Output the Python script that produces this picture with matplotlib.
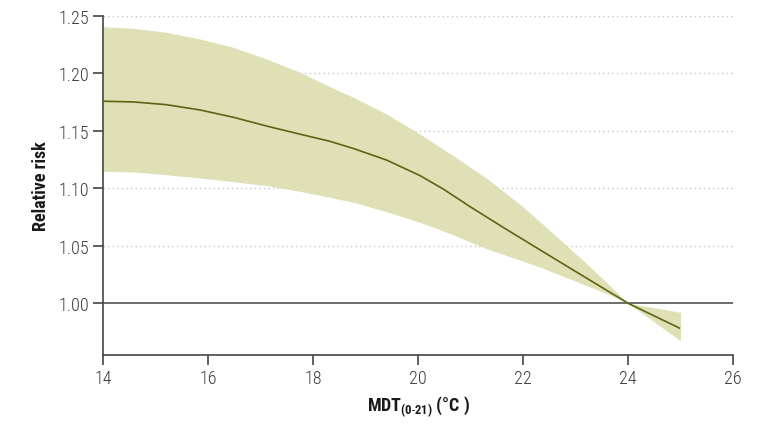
import matplotlib
matplotlib.use("Agg")
import matplotlib.pyplot as plt
from matplotlib import font_manager as fm

# Data
x_center = [14.0, 14.58, 15.21, 15.85, 16.48, 17.12, 17.75, 18.32, 18.77, 19.40,
            20.04, 20.48, 20.99, 21.62, 22.32, 23.15, 24.0, 24.98]
y_center = [1.1756, 1.175, 1.1726, 1.168, 1.1617, 1.154, 1.147, 1.1408, 1.1345, 1.1245,
            1.1109, 1.0993, 1.0840, 1.0660, 1.0465, 1.0235, 1.000, 0.9784]

x_band = [14.0, 14.58, 15.21, 15.85, 16.48, 17.12, 17.75, 18.32, 18.77, 19.40,
          20.04, 20.67, 21.30, 21.94, 22.32, 23.15, 23.59, 24.0, 25.0]
y_upper = [1.2404, 1.239, 1.2355, 1.2297, 1.2225, 1.2123, 1.2008, 1.1883, 1.179, 1.1645,
           1.147, 1.1283, 1.1089, 1.086, 1.071, 1.037, 1.0182, 1.000, 0.9921]
y_lower = [1.1147, 1.1141, 1.1117, 1.1089, 1.1057, 1.1022, 1.0973, 1.0921, 1.0877, 1.0796,
           1.0703, 1.0595, 1.0475, 1.0375, 1.0315, 1.0165, 1.0085, 1.000, 0.9674]

xticks = [14, 16, 18, 20, 22, 24, 26]
yticks = [1.00, 1.05, 1.10, 1.15, 1.20, 1.25]
ytick_labels = ["1.00", "1.05", "1.10", "1.15", "1.20", "1.25"]

# choose a condensed font if one is installed
names = {f.name for f in fm.fontManager.ttflist}
prefs = ["Liberation Sans Narrow", "Roboto Condensed", "Open Sans Condensed",
         "Noto Sans Condensed", "DejaVu Sans Condensed"]
chosen = next((n for n in prefs if n in names), None)
if chosen is None:
    chosen = "DejaVu Sans"
    plt.rcParams['font.stretch'] = 'condensed'
plt.rcParams['font.family'] = [chosen, "DejaVu Sans"]
plt.rcParams['mathtext.fontset'] = 'custom'
plt.rcParams['mathtext.rm'] = chosen
plt.rcParams['mathtext.bf'] = chosen + ':bold'
plt.rcParams['mathtext.it'] = chosen + ':italic'

fig = plt.figure(figsize=(7.71, 4.27), dpi=100)
ax = fig.add_axes([0.1336, 0.1663, 0.8171, 0.7947])

ax.fill_between(x_band, y_lower, y_upper, color="#dfe0b6", linewidth=0, zorder=2)
ax.plot(x_center, y_center, color="#5e6410", linewidth=1.2, zorder=3)

for yv in yticks[1:]:
    ax.axhline(yv, color="#c4c4c4", linestyle=(0, (1, 2.3)), linewidth=1.0, zorder=1)
ax.axhline(1.0, color="#555555", linewidth=1.2, zorder=1)

ax.set_xlim(14, 26)
ax.set_ylim(0.955, 1.25)
ax.set_xticks(xticks)
ax.set_yticks(yticks)
ax.set_yticklabels(ytick_labels)

for s in ["top", "right"]:
    ax.spines[s].set_visible(False)
for s in ["left", "bottom"]:
    ax.spines[s].set_color("#444444")
    ax.spines[s].set_linewidth(1.2)

ax.tick_params(axis="both", direction="out", length=7, width=1.2, color="#444444",
               labelsize=13, labelcolor="#3a3a3a", pad=3)
for lab in ax.get_xticklabels() + ax.get_yticklabels():
    lab.set_fontweight("light")

ax.set_ylabel("Relative risk", fontsize=13, fontweight="bold", labelpad=6, color="#1a1a1a")
ax.set_xlabel("MDT$_{\\mathbf{(0\\text{-}21)}}$ (°C )", fontsize=13, fontweight="bold",
              color="#1a1a1a", labelpad=5)

fig.savefig("out.png", dpi=100)
